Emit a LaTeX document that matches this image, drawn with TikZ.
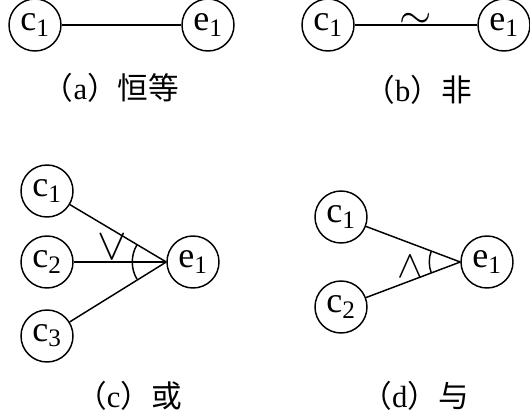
\documentclass[tikz,border=0pt]{standalone}
\usepackage{fontspec}
\setmainfont{Liberation Serif}
\newfontfamily\cjk{Noto Sans CJK SC}
\newcommand{\eventNodeSize}{39pt}
\newcommand{\orRadius}{34}
\newcommand{\andRadius}{31}

\begin{document}
\begin{tikzpicture}[x=0.75pt,y=0.75pt]
\tikzstyle{eventNode}=[circle,draw,line width=1.1pt,minimum size=\eventNodeSize,inner sep=0pt,font=\fontsize{27}{30}\selectfont]
\tikzstyle{eventEdge}=[line width=1.1pt]
\tikzstyle{gateSign}=[inner sep=0pt,font=\fontsize{20}{22}\selectfont]
\tikzstyle{caption}=[inner sep=0pt,font=\fontsize{23}{26}\selectfont]
\useasboundingbox (0,0) rectangle (530,-413);
\node[eventNode] (a-c1) at (35,-25) {c\textsubscript{1}};
\node[eventNode] (a-e1) at (208,-25) {e\textsubscript{1}};
\draw[eventEdge] (a-c1) -- (a-e1);
\node[caption] (a-cap) at (111,-88) {{\cjk （}a{\cjk ）恒等}};
\node[eventNode] (b-c1) at (328,-25) {c\textsubscript{1}};
\node[eventNode] (b-e1) at (504,-25) {e\textsubscript{1}};
\draw[eventEdge] (b-c1) -- node[gateSign,yshift=3pt] {\scalebox{1.5}{$\sim$}} (b-e1);
\node[caption] (b-cap) at (418,-90) {{\cjk （}b{\cjk ）非}};
\node[eventNode] (c-c1) at (47,-191) {c\textsubscript{1}};
\node[eventNode] (c-c2) at (47,-262) {c\textsubscript{2}};
\node[eventNode] (c-c3) at (47,-336) {c\textsubscript{3}};
\node[eventNode] (c-e1) at (193,-262) {e\textsubscript{1}};
\draw[eventEdge] (c-c1) -- (c-e1.west);
\draw[eventEdge] (c-c2) -- (c-e1.west);
\draw[eventEdge] (c-c3) -- (c-e1.west);
\draw[eventEdge] (c-e1.west) ++(149.4:\orRadius) arc[start angle=149.4,end angle=210.6,radius=\orRadius];
\node[gateSign] (c-or) at (112,-247) {\scalebox{1.6}{$\vee$}};
\node[caption] (c-cap) at (129,-396) {{\cjk （}c{\cjk ）或}};
\node[eventNode] (d-c1) at (341,-217) {c\textsubscript{1}};
\node[eventNode] (d-c2) at (341,-307) {c\textsubscript{2}};
\node[eventNode] (d-e1) at (487,-262) {e\textsubscript{1}};
\draw[eventEdge] (d-c1) -- (d-e1.west);
\draw[eventEdge] (d-c2) -- (d-e1.west);
\draw[eventEdge] (d-e1.west) ++(159.3:\andRadius) arc[start angle=159.3,end angle=200.7,radius=\andRadius];
\node[gateSign] (d-and) at (410,-267) {\scalebox{1.4}{$\wedge$}};
\node[caption] (d-cap) at (415,-396) {{\cjk （}d{\cjk ）与}};
\end{tikzpicture}
\end{document}
